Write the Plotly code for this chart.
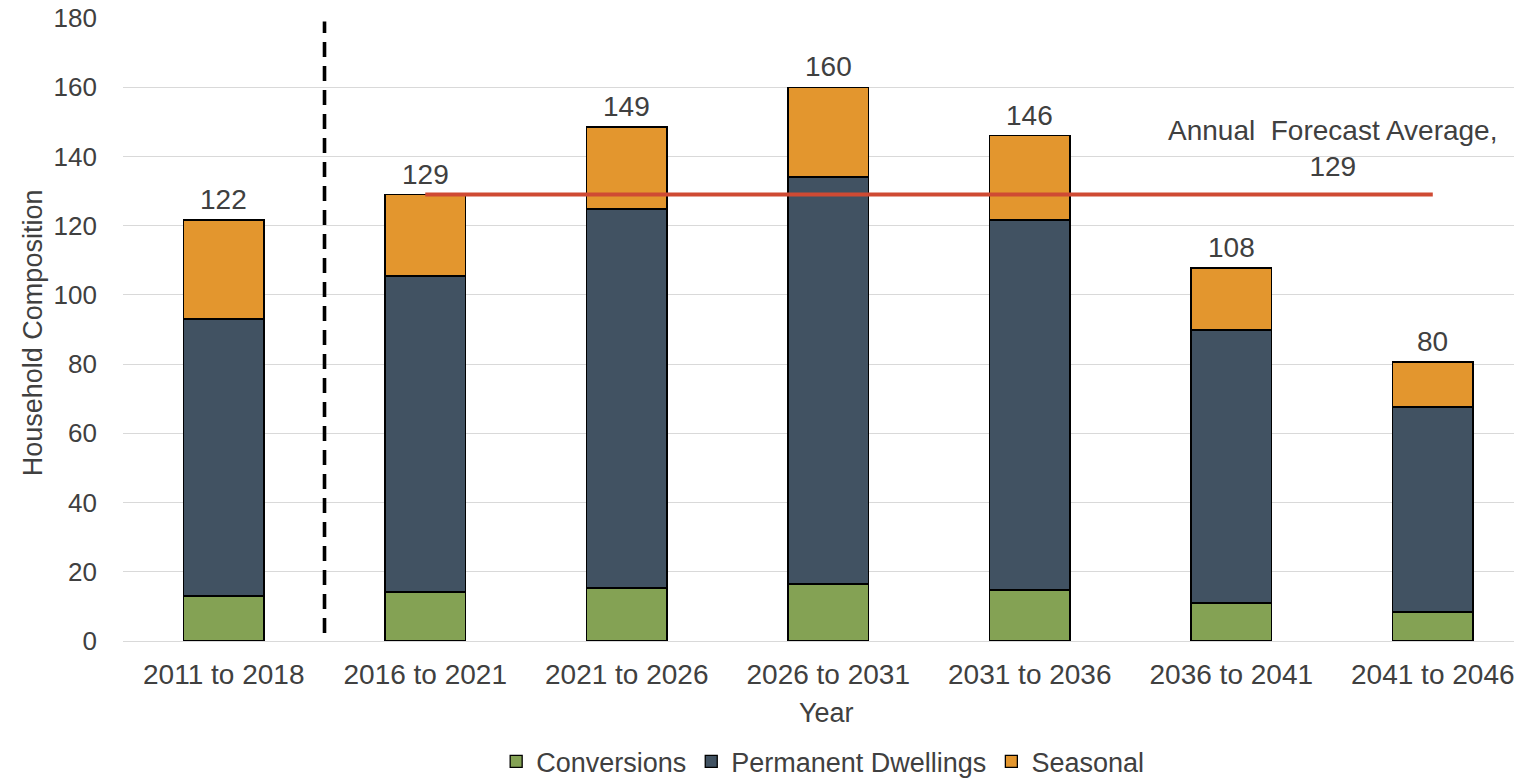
import plotly.graph_objects as go

categories = ["2011 to 2018", "2016 to 2021", "2021 to 2026", "2026 to 2031",
              "2031 to 2036", "2036 to 2041", "2041 to 2046"]
conversions = [13.0, 14.2, 15.3, 16.5, 14.7, 11.0, 8.4]
permanent = [80.0, 91.3, 109.5, 117.6, 106.9, 78.9, 59.2]
seasonal = [28.6, 23.5, 23.7, 25.9, 24.4, 17.9, 13.0]
totals = [122, 129, 149, 160, 146, 108, 80]
forecast_avg = 129

FONT = "Liberation Sans, Arial, sans-serif"
TXT = "#404040"

fig = go.Figure()
for name, vals, col in [("Conversions", conversions, "#84A254"),
                        ("Permanent Dwellings", permanent, "#415262"),
                        ("Seasonal", seasonal, "#E3962E")]:
    fig.add_trace(go.Bar(x=categories, y=vals, name=name, width=0.40,
                         marker=dict(color=col, line=dict(color="#000000", width=1.3))))

stack_tops = [c + p + s for c, p, s in zip(conversions, permanent, seasonal)]
for cat, top, tot in zip(categories, stack_tops, totals):
    fig.add_annotation(x=cat, y=top, xref="x", yref="y", text=str(tot), showarrow=False,
                       yanchor="bottom", yshift=3,
                       font=dict(size=28, color=TXT, family=FONT))

fig.add_trace(go.Scatter(x=[categories[1], categories[-1]], y=[forecast_avg, forecast_avg],
                         mode="lines", line=dict(color="#CF4A33", width=4),
                         showlegend=False, hoverinfo="skip"))

fig.add_shape(type="line", xref="x", yref="y", x0=0.5, x1=0.5, y0=2.3, y1=179,
              line=dict(color="#000000", width=3.6, dash="15px,9px"))

fig.add_annotation(x=5.5, y=142.2, xref="x", yref="y",
                   text="Annual  Forecast Average,<br>129", showarrow=False,
                   font=dict(size=28, color=TXT, family=FONT), align="center")

fig.add_annotation(x=-0.0647, y=0.494, xref="paper", yref="paper",
                   text="Household Composition", textangle=-90, showarrow=False,
                   xanchor="center", yanchor="middle",
                   font=dict(size=27, color=TXT, family=FONT))
fig.add_annotation(x=0.506, y=-0.1156, xref="paper", yref="paper",
                   text="Year", showarrow=False, xanchor="center", yanchor="middle",
                   font=dict(size=27, color=TXT, family=FONT))

fig.update_layout(
    width=1514, height=779,
    margin=dict(l=123, r=0, t=18, b=138, autoexpand=False),
    paper_bgcolor="white", plot_bgcolor="white",
    barmode="stack",
    font=dict(family=FONT, color=TXT, size=27),
    legend=dict(orientation="h", x=0.503, xanchor="center", y=-0.194, yanchor="middle",
                font=dict(size=27, color=TXT, family=FONT), traceorder="normal",
                itemwidth=30),
    xaxis=dict(range=[-0.5, 6.403], showgrid=False, showline=False, ticks="",
               tickfont=dict(size=28, color=TXT), automargin=False, ticklabelstandoff=14),
    yaxis=dict(range=[0, 180], dtick=20, showgrid=True, gridcolor="#D9D9D9", gridwidth=1.3,
               zeroline=True, zerolinecolor="#D9D9D9", zerolinewidth=1.3,
               showline=False, ticks="", tickfont=dict(size=26, color=TXT),
               ticklabelstandoff=25, automargin=False, ticklabeloverflow="allow"),
)

fig.write_html("out.html", config={"displayModeBar": False},
               post_script="document.body.style.margin='0';document.body.style.overflow='hidden';")
